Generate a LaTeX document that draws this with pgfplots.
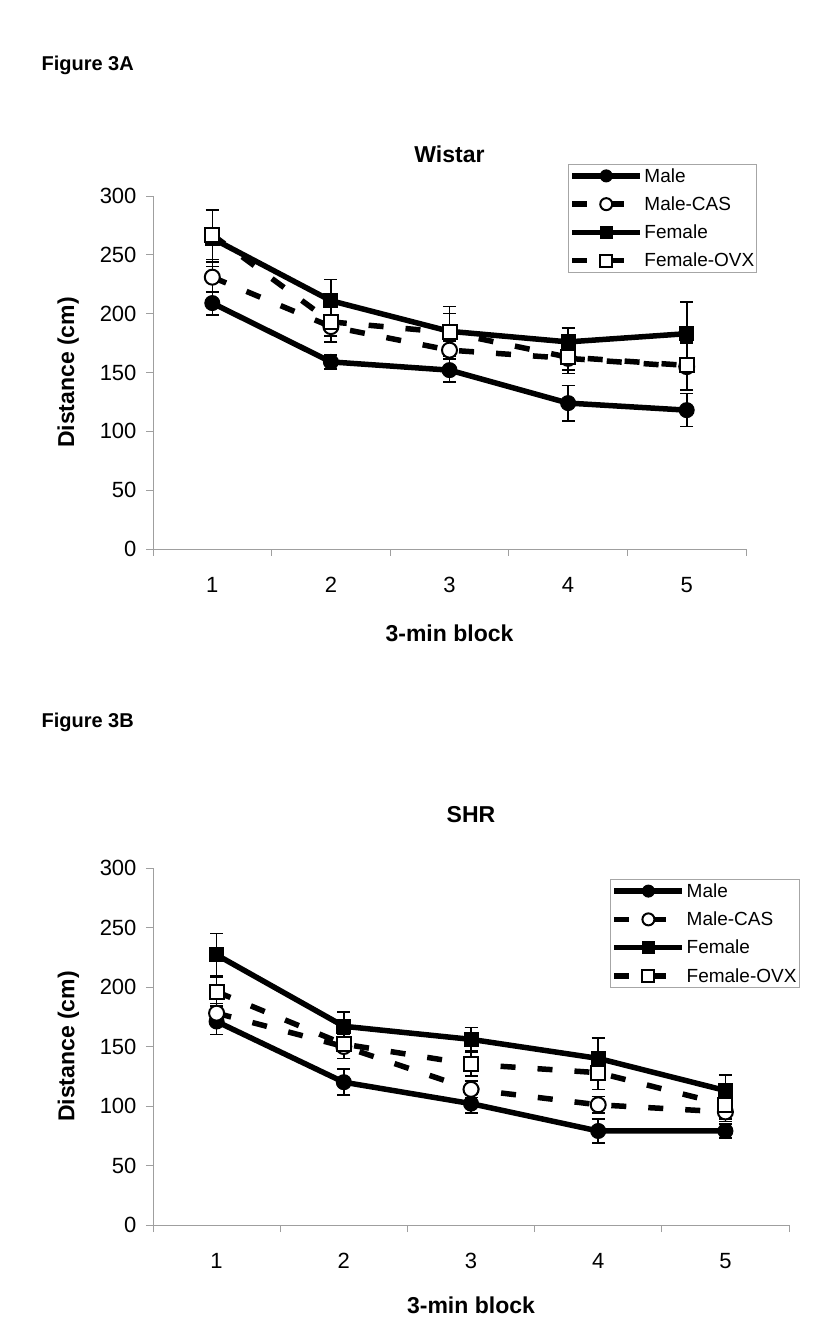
\documentclass[border=0pt]{standalone}
\usepackage{fontspec}
\setmainfont{Liberation Sans}
\usepackage{pgfplots}
\pgfplotsset{compat=1.18}

\pgfplotsset{
  exstyle/.style={
    scale only axis,
    xmin=0.5, xmax=5.5, ymin=0, ymax=300,
    axis x line*=bottom, axis y line*=left,
    axis line style={draw=gray!75, line width=0.9pt, -},
    ytick={0,50,...,300},
    xtick={0.5,1.5,2.5,3.5,4.5,5.5}, xticklabels={},
    extra x ticks={1,2,3,4,5}, extra x tick labels={1,2,3,4,5},
    extra x tick style={major tick length=0pt},
    tick align=outside, major tick length=7pt,
    every tick/.style={draw=gray!75, line width=0.9pt},
    /pgf/number format/assume math mode=true,
    tick label style={font=\fontsize{22}{24}\selectfont},
    xticklabel style={yshift=-25pt},
    yticklabel style={xshift=-6pt},
    label style={font=\bfseries\fontsize{23}{26}\selectfont},
    title style={font=\bfseries\fontsize{23}{26}\selectfont, anchor=center},
    legend cell align=left,
    legend style={draw=gray!70, line width=0.8pt, font=\fontsize{19}{21}\selectfont,
      anchor=north west, inner xsep=1pt, inner ysep=3pt, row sep=11pt,
      nodes={inner xsep=1.5pt, inner ysep=1pt}},
    legend image code/.code={\draw[mark repeat=2,mark phase=2,##1, mark size=6pt] plot coordinates {(0pt,0pt)(34pt,0pt)(68pt,0pt)};},
  },
  eb/.style={
    error bars/y dir=both, error bars/y explicit,
    error bars/error bar style={solid, line width=1.6pt, black},
    error bars/error mark options={solid, rotate=90, mark size=6.5pt, line width=1.6pt, black},
  },
  smale/.style={eb, solid, black, line width=5.5pt, mark=*, mark size=7.5pt, mark options={solid, fill=black, line width=1pt}},
  scas/.style={eb, black, line width=5.5pt, dash pattern=on 15pt off 22pt, mark=*, mark size=7.5pt, mark options={solid, fill=white, line width=2pt}},
  sfem/.style={eb, solid, black, line width=5.5pt, mark=square*, mark size=7pt, mark options={solid, fill=black, line width=1pt}},
  sovx/.style={eb, black, line width=5.5pt, dash pattern=on 15pt off 22pt, mark=square*, mark size=7pt, mark options={solid, fill=white, line width=2pt}},
}

\pgfplotstableread{
x y e
1 209 10
2 159 6
3 152 10
4 124 15
5 118 14
}\AMale
\pgfplotstableread{
x y e
1 231 13
2 189 8
3 169 8
4 162 10
5 155 20
}\ACas
\pgfplotstableread{
x y e
1 264 24
2 211 18
3 185 21
4 176 12
5 183 27
}\AFem
\pgfplotstableread{
x y e
1 267 21
2 193 17
3 184 16
4 163 14
5 156 21
}\AOvx

\pgfplotstableread{
x y e
1 171 11
2 120 11
3 102 8
4 79 10
5 79 6
}\BMale
\pgfplotstableread{
x y e
1 178 8
2 150 10
3 114 7
4 101 7
5 95 8
}\BCas
\pgfplotstableread{
x y e
1 227 18
2 167 12
3 156 10
4 140 17
5 113 13
}\BFem
\pgfplotstableread{
x y e
1 196 12
2 152 12
3 135 10
4 128 14
5 101 12
}\BOvx

\begin{document}
\begin{tikzpicture}
\path[use as bounding box] (0pt,0pt) rectangle (837pt,1326pt);

\node[anchor=west, font=\bfseries\fontsize{20}{22}\selectfont] at (38pt,1261pt) {Figure 3A};
\node[anchor=west, font=\bfseries\fontsize{20}{22}\selectfont] at (38pt,604pt) {Figure 3B};

\begin{axis}[exstyle, at={(153pt,777pt)}, anchor=south west, width=593pt, height=353pt,
  title={Wistar}, title style={at={(axis description cs:0.5,1.102)}},
  xlabel={3-min block}, xlabel style={at={(axis description cs:0.5,-0.238)}, anchor=center},
  ylabel={Distance (cm)}, ylabel style={at={(axis description cs:-0.143,0.5)}, anchor=center},
  legend style={at={(axis description cs:0.700,1.091)}},
]
\addplot[smale] table[x=x, y=y, y error=e] {\AMale};
\addlegendentry{Male}
\addplot[scas] table[x=x, y=y, y error=e] {\ACas};
\addlegendentry{Male-CAS}
\addplot[sfem] table[x=x, y=y, y error=e] {\AFem};
\addlegendentry{Female}
\addplot[sovx] table[x=x, y=y, y error=e] {\AOvx};
\addlegendentry{Female-OVX}
\end{axis}

\begin{axis}[exstyle, at={(153pt,101pt)}, anchor=south west, width=636pt, height=357pt,
  title={SHR}, title style={at={(axis description cs:0.5,1.134)}},
  xlabel={3-min block}, xlabel style={at={(axis description cs:0.5,-0.224)}, anchor=center},
  ylabel={Distance (cm)}, ylabel style={at={(axis description cs:-0.133,0.5)}, anchor=center},
  legend style={at={(axis description cs:0.719,0.969)}},
]
\addplot[smale] table[x=x, y=y, y error=e] {\BMale};
\addlegendentry{Male}
\addplot[scas] table[x=x, y=y, y error=e] {\BCas};
\addlegendentry{Male-CAS}
\addplot[sfem] table[x=x, y=y, y error=e] {\BFem};
\addlegendentry{Female}
\addplot[sovx] table[x=x, y=y, y error=e] {\BOvx};
\addlegendentry{Female-OVX}
\end{axis}
\end{tikzpicture}
\end{document}
